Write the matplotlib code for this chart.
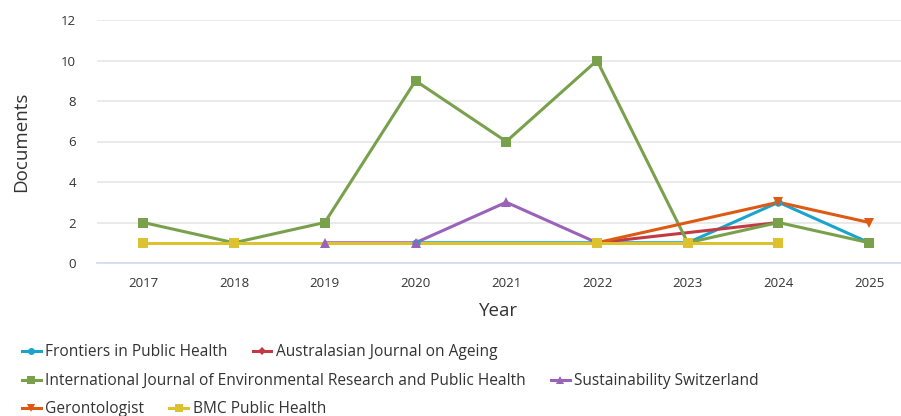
import matplotlib.pyplot as plt
from matplotlib.lines import Line2D

plt.rcParams["font.family"] = ["Open Sans", "DejaVu Sans"]

years_frontiers = [2020, 2023, 2024, 2025]
docs_frontiers = [1, 1, 3, 1]

years_ausjag = [2022, 2024]
docs_ausjag = [1, 2]

years_ijerph = [2017, 2018, 2019, 2020, 2021, 2022, 2023, 2024, 2025]
docs_ijerph = [2, 1, 2, 9, 6, 10, 1, 2, 1]

years_sustain = [2019, 2020, 2021, 2022]
docs_sustain = [1, 1, 3, 1]

years_geront = [2022, 2024, 2025]
docs_geront = [1, 3, 2]

years_bmc = [2017, 2018, 2022, 2023, 2024]
docs_bmc = [1, 1, 1, 1, 1]

series = [
    ("Frontiers in Public Health", years_frontiers, docs_frontiers, "#1aa3cc", "o", 6),
    ("Australasian Journal on Ageing", years_ausjag, docs_ausjag, "#c23a43", "D", 5),
    ("International Journal of Environmental Research and Public Health",
     years_ijerph, docs_ijerph, "#79a14c", "s", 6.5),
    ("Sustainability Switzerland", years_sustain, docs_sustain, "#9a63b8", "^", 7),
    ("Gerontologist", years_geront, docs_geront, "#dc5a14", "v", 7),
    ("BMC Public Health", years_bmc, docs_bmc, "#dcc230", "s", 6.5),
]

fig = plt.figure(figsize=(9.01, 4.16), dpi=100)
ax = fig.add_axes([97 / 901, 1 - 263 / 416, 1 - 97 / 901, (263 - 20) / 416])

handles = []
for i, (name, xs, ys, color, marker, ms) in enumerate(series):
    ax.plot(xs, ys, color=color, lw=2.2, zorder=2 + i * 0.01, solid_capstyle="round")
    ax.plot(xs, ys, ls="none", marker=marker, ms=ms, color=color,
            markeredgewidth=0, zorder=3 + i * 0.01)
    handles.append(Line2D([], [], color=color, lw=2.2, marker=marker,
                          ms=ms - 1, markeredgewidth=0))

ax.set_xlim(2016.49, 2025.35)
ax.set_ylim(0, 12)
ax.set_xticks(years_ijerph)
ax.set_yticks(range(0, 13, 2))
ax.grid(axis="y", color="#e6e6e6", lw=1.2)
ax.set_axisbelow(True)
for side in ("top", "right", "left"):
    ax.spines[side].set_visible(False)
ax.spines["bottom"].set_color("#d6ddef")
ax.spines["bottom"].set_linewidth(1.3)
ax.tick_params(length=0, labelsize=9.5, colors="#333333", pad=10)
ax.tick_params(axis="y", pad=15)
ax.set_xlabel("Year", fontsize=13.5, color="#333333", labelpad=9)
ax.set_ylabel("Documents", fontsize=13.5, color="#333333", labelpad=22)

rows = [(0, 2, 352), (2, 4, 381), (4, 6, 409)]
for a, b, y in rows:
    leg = fig.legend(handles[a:b], [s[0] for s in series[a:b]], ncol=2,
                     loc="center left", bbox_to_anchor=(22 / 901, 1 - y / 416),
                     frameon=False, fontsize=11.2, handlelength=1.2,
                     handletextpad=0.3, columnspacing=1.6, borderaxespad=0,
                     borderpad=0)
    for t in leg.get_texts():
        t.set_color("#333333")

fig.savefig("out.png", dpi=100, facecolor="white")
